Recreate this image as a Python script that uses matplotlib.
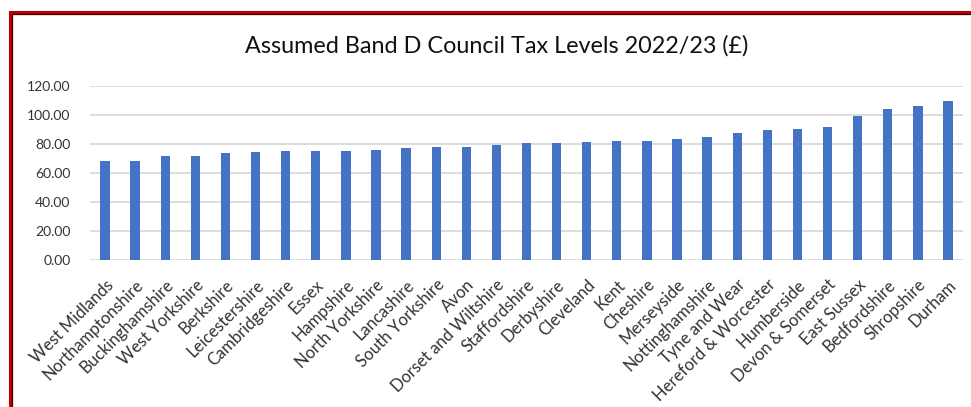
import numpy as np
import matplotlib
matplotlib.use("Agg")
from matplotlib import pyplot as plt
from matplotlib.lines import Line2D

plt.rcParams['font.family'] = ['Lato', 'DejaVu Sans']

# assumed band D council tax levels 2022/23 (pounds)
areas = ['West Midlands', 'Northamptonshire', 'Buckinghamshire', 'West Yorkshire',
         'Berkshire', 'Leicestershire', 'Cambridgeshire', 'Essex', 'Hampshire',
         'North Yorkshire', 'Lancashire', 'South Yorkshire', 'Avon',
         'Dorset and Wiltshire', 'Staffordshire', 'Derbyshire', 'Cleveland', 'Kent',
         'Cheshire', 'Merseyside', 'Nottinghamshire', 'Tyne and Wear',
         'Hereford & Worcester', 'Humberside', 'Devon & Somerset', 'East Sussex',
         'Bedfordshire', 'Shropshire', 'Durham']
levels = [67.9, 67.9, 71.8, 71.8, 73.7, 74.4, 75.3, 75.3, 75.3, 75.7, 76.9, 77.6,
          77.6, 79.4, 80.3, 80.8, 81.5, 82.2, 82.2, 83.3, 84.7, 87.4, 89.3, 90.0,
          91.8, 98.9, 104.2, 106.0, 109.2]
yticks = [0, 20, 40, 60, 80, 100, 120]

W, H = 971, 407
fig = plt.figure(figsize=(W/100, H/100), dpi=100)
ax = fig.add_axes([90/W, 1-260/H, (963-90)/W, (260-85.7)/H])

x = np.arange(len(areas))
ax.bar(x, levels, width=0.31, color='#4472C4', zorder=3)
ax.set_xlim(-0.5, len(areas)-0.5)
ax.set_ylim(0, 120)
ax.set_yticks(yticks)
ax.set_yticklabels([f'{v:.2f}' for v in yticks], fontsize=10, color='#333333')
ax.set_xticks(x)
ax.set_xticklabels(areas, rotation=45, ha='right', rotation_mode='anchor',
                   fontsize=12, color='#333333')
ax.tick_params(axis='x', length=0, pad=12)
ax.tick_params(axis='y', length=0, pad=14)
ax.grid(axis='y', color='#d9d9d9', linewidth=1.3, zorder=0)
for s in ax.spines.values():
    s.set_visible(False)

fig.text(497/W, 1-46/H, 'Assumed Band D Council Tax Levels 2022/23 (£)',
         ha='center', va='center', fontsize=16.8, color='#111111')

# dark red frame on the left and top
fig.add_artist(Line2D([10/W, 10/W], [0, 1-12/H], color='#C00000', lw=2.2,
                      transform=fig.transFigure))
fig.add_artist(Line2D([10/W, 1], [1-12/H, 1-12/H], color='#C00000', lw=2.2,
                      transform=fig.transFigure))
fig.add_artist(Line2D([11.5/W, 11.5/W], [0, 1-13.5/H], color='#3a0000', lw=0.9,
                      transform=fig.transFigure))
fig.add_artist(Line2D([11.5/W, 1], [1-13.5/H, 1-13.5/H], color='#3a0000', lw=0.9,
                      transform=fig.transFigure))

fig.savefig('out.png', dpi=100)
